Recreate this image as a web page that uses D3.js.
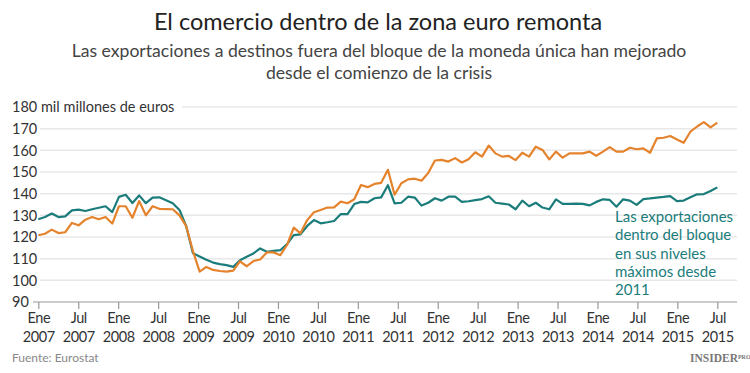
<!DOCTYPE html>
<html>
<head>
<meta charset="utf-8">
<script src="https://cdn.jsdelivr.net/npm/d3@7"></script>
<style>
  body { margin: 0; background: #fff; }
  svg text { font-family: Lato, "Open Sans", sans-serif; }
</style>
</head>
<body>
<div id="chart"></div>
<script>
var width = 750;
var height = 373;

// exportaciones fuera del bloque (naranja), mil millones de euros, ene 2007 - jun 2015
var fuera = [
  120.8, 121.5, 123.4, 121.8, 122.2, 126.5, 125.4, 128, 129.2, 128.2, 129.2, 126.2,
  134.2, 134.2, 128.9, 136.6, 130, 134.2, 133, 132.9, 132.8, 130, 125, 113.5,
  104, 106.2, 104.8, 104.3, 104, 104.5, 108.8, 106.5, 108.9, 109.6, 112.9, 112.9,
  111.6, 116.3, 124.3, 121.7, 127.8, 131.4, 132.5, 133.6, 133.7, 136.3, 135.6, 137.4,
  144, 143, 144.5, 145, 151, 139.5, 144.8, 146.6, 146.9, 146, 149.5, 155.3, 155.6, 154.8,
  156.4, 154.4, 155.9, 159.1, 157.1, 162.2,
  158.6, 157.1, 157.4, 155.5, 158.9, 157.1, 161.7, 160.2, 155.8, 159.4, 156.6, 158.6,
  158.6, 158.6, 159.4, 157.5, 159.4, 161.5,
  159.4, 159.4, 161.2, 160.5, 160.9, 158.9, 165.5, 165.8, 166.6, 165, 163.5, 168.6,
  171, 173, 170.6, 172.8
];

// exportaciones dentro del bloque (verde azulado)
var dentro = [
  128.2, 129.2, 130.8, 129.2, 129.5, 132.3, 132.6, 132, 132.8, 133.5, 134.2, 131.5,
  138.5, 139.5, 135.7, 139.2, 135.6, 138.2, 138.3, 137, 135.6, 132.5, 125, 112.5,
  111, 109.5, 108.2, 107.5, 107, 106.2, 109.3, 110.9, 112.4, 114.7, 113.2, 113.6,
  113.9, 116.7, 120.9, 121.2, 125.1, 127.8, 126.3, 126.8, 127.4, 130.6, 130.6, 135.2,
  136.2, 136, 137.9, 138.3, 143.9, 135.5, 135.8, 138.6, 138.2, 134.5, 135.8, 137.9,
  136.8, 138.6, 138.6, 136.2, 136.5, 137, 137.5, 138.8,
  135.8, 135.4, 135, 132.8, 136.8, 134.2, 135.8, 133.6, 132.8, 137.4, 135.3, 135.3,
  135.4, 135.3, 134.6, 136.2, 137.4, 137.1,
  134, 137.4, 136.8, 134.8, 137.5, 137.8, 138.2, 138.5, 138.9, 136.6, 136.8, 138.3,
  139.7, 139.8, 141.2, 142.9
];

var meses = d3.timeMonth.range(new Date(2007, 0, 1), new Date(2015, 6, 1));

var tickLabels = [
  ["Ene", "2007"], ["Jul", "2007"], ["Ene", "2008"], ["Jul", "2008"],
  ["Ene", "2009"], ["Jul", "2009"], ["Ene", "2010"], ["Jul", "2010"],
  ["Ene", "2011"], ["Jul", "2011"], ["Ene", "2012"], ["Jul", "2012"],
  ["Ene", "2013"], ["Jul", "2013"], ["Ene", "2014"], ["Jul", "2014"],
  ["Ene", "2015"], ["Jul", "2015"]
];

var yTicks = [90, 100, 110, 120, 130, 140, 150, 160, 170, 180];

var titulo = "El comercio dentro de la zona euro remonta";
var subtitulo = ["Las exportaciones a destinos fuera del bloque de la moneda única han mejorado",
                 "desde el comienzo de la crisis"];
var nota = ["Las exportaciones", "dentro del bloque", "en sus niveles", "máximos desde", "2011"];

var naranja = "#e5832d";
var verde = "#1b7d7b";

var x0 = 38.3, x1 = 717.3;

var xScale = d3.scalePoint().domain(meses.map(function (d) { return +d; })).range([x0, x1]);
var xTickScale = d3.scalePoint().domain(d3.range(tickLabels.length)).range([x0, x1]);
var yScale = d3.scaleLinear().domain([90, 180]).range([302, 107]);

var svg = d3.select("#chart")
    .append("svg")
    .attr("width", width)
    .attr("height", height);

/* titles */
svg.append("text")
    .attr("x", 378).attr("y", 30)
    .attr("text-anchor", "middle")
    .style("font-size", "23.5px")
    .style("fill", "#222")
    .text(titulo);

svg.selectAll(".sub")
    .data(subtitulo)
    .enter()
    .append("text")
    .attr("class", "sub")
    .attr("x", 379)
    .attr("y", function (d, i) { return 57 + i * 22; })
    .attr("text-anchor", "middle")
    .style("font-size", "17.6px")
    .style("fill", "#444")
    .text(function (d) { return d; });

/* gridlines */
svg.selectAll(".grid")
    .data(yTicks.slice(1))
    .enter()
    .append("line")
    .attr("class", "grid")
    .attr("x1", function (d) { return d === 180 ? 182 : 40; })
    .attr("x2", 737)
    .attr("y1", function (d) { return yScale(d); })
    .attr("y2", function (d) { return yScale(d); })
    .style("stroke", "#e8e8e8")
    .style("stroke-width", 1.5);

svg.selectAll(".ylab")
    .data(yTicks)
    .enter()
    .append("text")
    .attr("class", "ylab")
    .attr("x", 12)
    .attr("y", function (d) { return yScale(d); })
    .attr("dy", "0.36em")
    .style("font-size", "14.5px")
    .style("fill", "#333")
    .text(function (d) { return d === 180 ? "180 mil millones de euros" : d; });

/* x axis */
var xAxis = d3.axisBottom(xTickScale)
    .tickSize(7)
    .tickFormat("");

var gx = svg.append("g")
    .attr("transform", "translate(0, 302)")
    .call(xAxis);

gx.select(".domain").remove();
gx.selectAll(".tick line").style("stroke", "#999").style("stroke-width", 1.2);

gx.append("line")
    .attr("x1", 33).attr("x2", 737)
    .style("stroke", "#999")
    .style("stroke-width", 1.2);

gx.selectAll(".tick")
    .append("text")
    .attr("text-anchor", "middle")
    .style("font-size", "14.5px")
    .style("letter-spacing", "-0.4px")
    .style("fill", "#333")
    .selectAll("tspan")
    .data(function (d) { return tickLabels[d]; })
    .enter()
    .append("tspan")
    .attr("x", 0)
    .attr("y", function (d, i) { return 21 + i * 19; })
    .text(function (d) { return d; });

/* lines */
var line = d3.line()
    .x(function (d, i) { return xScale(+meses[i]); })
    .y(function (d) { return yScale(d); });

svg.append("path")
    .attr("d", line(dentro))
    .style("fill", "none")
    .style("stroke", verde)
    .style("stroke-width", 2.2)
    .style("stroke-linejoin", "round");

svg.append("path")
    .attr("d", line(fuera))
    .style("fill", "none")
    .style("stroke", naranja)
    .style("stroke-width", 2.2)
    .style("stroke-linejoin", "round");

/* annotation */
svg.append("text")
    .attr("x", 615)
    .attr("y", 222)
    .style("font-size", "15px")
    .style("fill", verde)
    .selectAll("tspan")
    .data(nota)
    .enter()
    .append("tspan")
    .attr("x", 615)
    .attr("dy", function (d, i) { return i === 0 ? 0 : 18.3; })
    .text(function (d) { return d; });

/* footer */
svg.append("text")
    .attr("x", 12).attr("y", 362)
    .style("font-size", "12px")
    .style("fill", "#888")
    .text("Fuente: Eurostat");

var logo = svg.append("text")
    .attr("x", 690).attr("y", 362)
    .style("font-family", "'Liberation Serif', serif")
    .style("font-weight", "bold")
    .style("font-size", "11.5px")
    .style("fill", "#777");
logo.append("tspan").text("INSIDER");
logo.append("tspan").attr("dy", -3).style("font-size", "6px").text("PRO");
</script>
</body>
</html>
